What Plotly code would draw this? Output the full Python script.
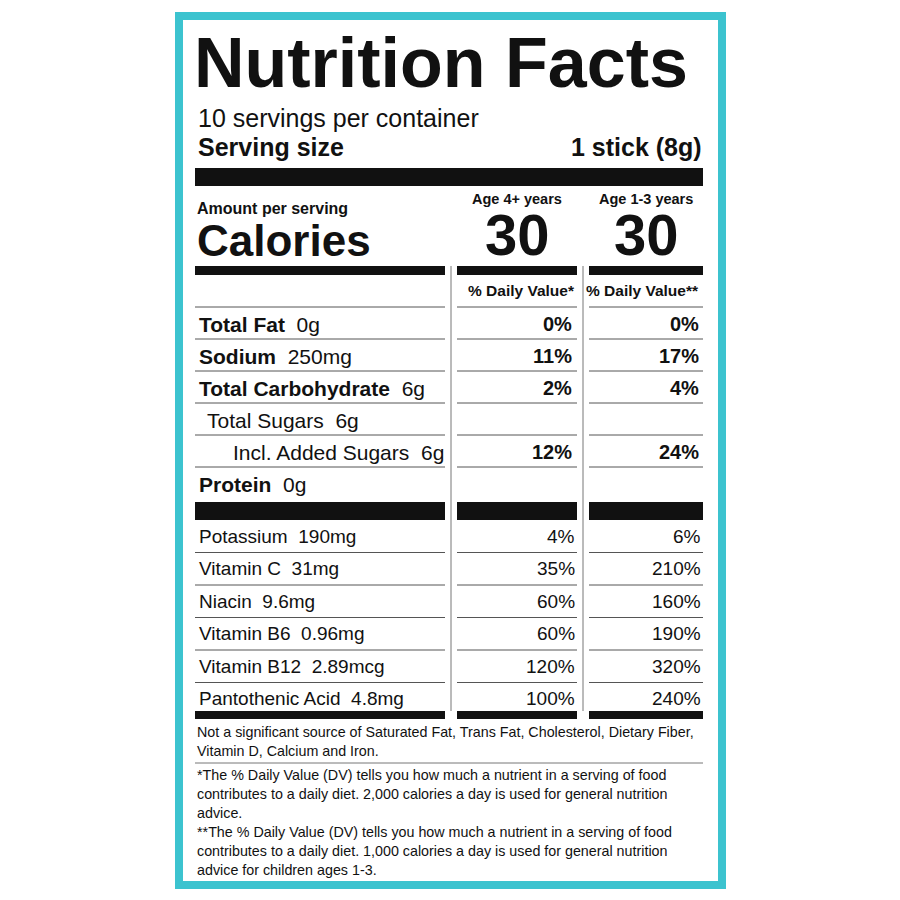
import plotly.graph_objects as go

servings_text = "10 servings per container"
serving_size = "1 stick (8g)"
col_heads = ["Age 4+ years", "Age 1-3 years"]
calories = ["30", "30"]
main_names = ["Total Fat", "Sodium", "Total Carbohydrate", "Total Sugars", "Incl. Added Sugars", "Protein"]
main_amounts = ["0g", "250mg", "6g", "6g", "6g", "0g"]
main_bold = [True, True, True, False, False, True]
main_indent = [0, 0, 0, 8, 34, 0]
main_dv1 = ["0%", "11%", "2%", "", "12%", ""]
main_dv2 = ["0%", "17%", "4%", "", "24%", ""]
vit_names = ["Potassium", "Vitamin C", "Niacin", "Vitamin B6", "Vitamin B12", "Pantothenic Acid"]
vit_amounts = ["190mg", "31mg", "9.6mg", "0.96mg", "2.89mcg", "4.8mg"]
vit_dv1 = ["4%", "35%", "60%", "60%", "120%", "100%"]
vit_dv2 = ["6%", "210%", "160%", "190%", "320%", "240%"]
foot1 = ["Not a significant source of Saturated Fat, Trans Fat, Cholesterol, Dietary Fiber,",
         "Vitamin D, Calcium and Iron."]
foot2 = ["*The % Daily Value (DV) tells you how much a nutrient in a serving of food",
         "contributes to a daily diet. 2,000 calories a day is used for general nutrition",
         "advice."]
foot3 = ["**The % Daily Value (DV) tells you how much a nutrient in a serving of food",
         "contributes to a daily diet. 1,000 calories a day is used for general nutrition",
         "advice for children ages 1-3."]

F = "Liberation Sans, Arial, sans-serif"
fig = go.Figure()
shapes = []
ann = []

def rect(x0, y0, x1, y1, color):
    shapes.append(dict(type="rect", x0=x0, x1=x1, y0=y0, y1=y1, fillcolor=color, line_width=0, layer="below"))

def line(x0, y0, x1, y1, w=1, color="#555"):
    shapes.append(dict(type="line", x0=x0, x1=x1, y0=y0, y1=y1, line=dict(color=color, width=w)))

def text(x, y, t, size, anchor="left", bold=False):
    if bold:
        t = "<b>" + t + "</b>"
    ann.append(dict(x=x, y=y, text=t, showarrow=False, xanchor=anchor, yanchor="middle",
                    font=dict(family=F, size=size, color="#111")))

rect(175, 12, 726, 889, "#3cc3cf")
rect(183, 20, 718, 881, "white")

text(192, 63, "Nutrition Facts", 70, bold=True)
text(196, 118, servings_text, 25)
text(196, 147, "Serving size", 25, bold=True)
text(704, 147, serving_size, 25, "right", bold=True)
rect(195, 168, 703, 186, "#111")

cols = [(457, 577), (589, 703)]
text(195, 208, "Amount per serving", 16, bold=True)
text(195, 240, "Calories", 44, bold=True)
for (a, b), h, c in zip(cols, col_heads, calories):
    text((a + b) / 2, 199, h, 14.5, "center", bold=True)
    text((a + b) / 2, 234, c, 58, "center", bold=True)
for a, b in [(195, 445)] + cols:
    rect(a, 266, b, 275, "#111")
    rect(a, 502, b, 520, "#111")
    rect(a, 711, b, 719, "#111")
line(451, 266, 451, 711, 1, "#777")
line(583, 266, 583, 711, 1, "#777")
text(577, 290, "% Daily Value*", 15.5, "right", bold=True)
text(701, 290, "% Daily Value**", 15.5, "right", bold=True)

segs = [(195, 445), (457, 577), (589, 703)]
for i, (n, amt, bd, ind, d1, d2) in enumerate(zip(main_names, main_amounts, main_bold, main_indent, main_dv1, main_dv2)):
    y = 324 + 32 * i
    ly = y - 17
    for a, b in segs:
        line(a, ly, b, ly)
    lbl = ("<b>%s</b>" % n if bd else n) + "  " + amt
    text(197 + ind, y, lbl, 21)
    text(574, y, d1, 20, "right", bold=True)
    text(701, y, d2, 20, "right", bold=True)

for i, (n, amt, d1, d2) in enumerate(zip(vit_names, vit_amounts, vit_dv1, vit_dv2)):
    y = 536 + 32.5 * i
    if i > 0:
        for a, b in segs:
            line(a, y - 16, b, y - 16)
    text(197, y, n + "  " + amt, 19)
    text(577, y, d1, 19, "right")
    text(703, y, d2, 19, "right")

for i, t in enumerate(foot1):
    text(195, 732 + 19 * i, t, 14.3)
line(195, 763, 703, 763, 1, "#777")
for i, t in enumerate(foot2):
    text(195, 775 + 19 * i, t, 14.3)
for i, t in enumerate(foot3):
    text(195, 832 + 19 * i, t, 14.3)

fig.update_layout(width=900, height=900, margin=dict(l=0, r=0, t=0, b=0),
                  paper_bgcolor="white", plot_bgcolor="white",
                  shapes=shapes, annotations=ann, showlegend=False,
                  xaxis=dict(range=[8, 908], visible=False, fixedrange=True),
                  yaxis=dict(range=[908, 8], visible=False, fixedrange=True))
fig.write_html("out.html")
